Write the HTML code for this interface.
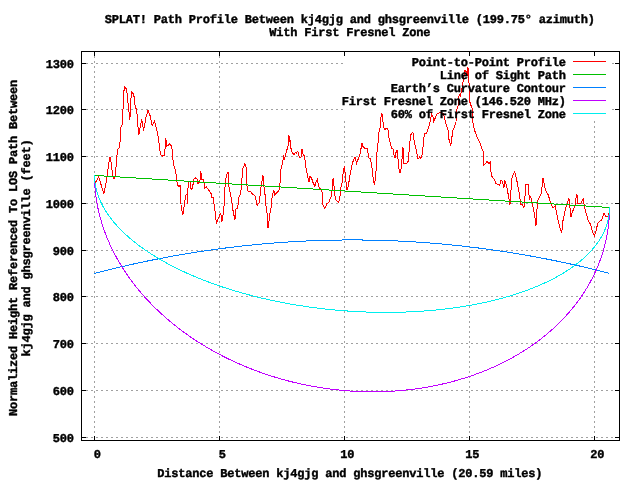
<!DOCTYPE html>
<html><head><meta charset="utf-8"><title>SPLAT! Path Profile</title>
<style>html,body{margin:0;padding:0;background:#fff;overflow:hidden}svg{display:block}</style></head>
<body>
<svg width="640" height="480" viewBox="0 0 640 480" shape-rendering="crispEdges">
<rect width="640" height="480" fill="#fff"/>
<g transform="translate(0.5,0.5)" fill="none" stroke-width="1">
<g stroke="#a0a0a0" stroke-dasharray="2 3">
<line x1="81.5" y1="63" x2="343.5" y2="63" stroke-dashoffset="1"/>
<line x1="611.5" y1="63" x2="613.5" y2="63" stroke-dasharray="none"/>
<line x1="81.5" y1="109" x2="343.5" y2="109" stroke-dashoffset="1"/>
<line x1="611.5" y1="109" x2="613.5" y2="109" stroke-dasharray="none"/>
<line x1="81.5" y1="156" x2="618.5" y2="156" stroke-dashoffset="1"/>
<line x1="81.5" y1="203" x2="618.5" y2="203" stroke-dashoffset="1"/>
<line x1="81.5" y1="250" x2="618.5" y2="250" stroke-dashoffset="1"/>
<line x1="81.5" y1="296" x2="618.5" y2="296" stroke-dashoffset="1"/>
<line x1="81.5" y1="343" x2="618.5" y2="343" stroke-dashoffset="1"/>
<line x1="81.5" y1="390" x2="618.5" y2="390" stroke-dashoffset="1"/>
<line x1="81.5" y1="437" x2="618.5" y2="437" stroke-dashoffset="1"/>
<line x1="94" y1="51.5" x2="94" y2="439.5" stroke-dashoffset="1"/>
<line x1="219" y1="51.5" x2="219" y2="439.5" stroke-dashoffset="1"/>
<line x1="344" y1="119.5" x2="344" y2="439.5" stroke-dashoffset="4"/>
<line x1="469" y1="119.5" x2="469" y2="439.5" stroke-dashoffset="4"/>
<line x1="594" y1="119.5" x2="594" y2="439.5" stroke-dashoffset="4"/>
</g>
<g stroke="#000">
<rect x="81" y="51" width="538" height="389"/>
<line x1="81.5" y1="63" x2="85.5" y2="63"/>
<line x1="614.5" y1="63" x2="618.5" y2="63"/>
<line x1="81.5" y1="109" x2="85.5" y2="109"/>
<line x1="614.5" y1="109" x2="618.5" y2="109"/>
<line x1="81.5" y1="156" x2="85.5" y2="156"/>
<line x1="614.5" y1="156" x2="618.5" y2="156"/>
<line x1="81.5" y1="203" x2="85.5" y2="203"/>
<line x1="614.5" y1="203" x2="618.5" y2="203"/>
<line x1="81.5" y1="250" x2="85.5" y2="250"/>
<line x1="614.5" y1="250" x2="618.5" y2="250"/>
<line x1="81.5" y1="296" x2="85.5" y2="296"/>
<line x1="614.5" y1="296" x2="618.5" y2="296"/>
<line x1="81.5" y1="343" x2="85.5" y2="343"/>
<line x1="614.5" y1="343" x2="618.5" y2="343"/>
<line x1="81.5" y1="390" x2="85.5" y2="390"/>
<line x1="614.5" y1="390" x2="618.5" y2="390"/>
<line x1="81.5" y1="437" x2="85.5" y2="437"/>
<line x1="614.5" y1="437" x2="618.5" y2="437"/>
<line x1="94" y1="51.5" x2="94" y2="55.5"/>
<line x1="94" y1="435.5" x2="94" y2="439.5"/>
<line x1="219" y1="51.5" x2="219" y2="55.5"/>
<line x1="219" y1="435.5" x2="219" y2="439.5"/>
<line x1="344" y1="51.5" x2="344" y2="55.5"/>
<line x1="344" y1="435.5" x2="344" y2="439.5"/>
<line x1="469" y1="51.5" x2="469" y2="55.5"/>
<line x1="469" y1="435.5" x2="469" y2="439.5"/>
<line x1="594" y1="51.5" x2="594" y2="55.5"/>
<line x1="594" y1="435.5" x2="594" y2="439.5"/>
</g>
<g stroke-linejoin="miter" stroke-linecap="square">
<polyline points="95.00,182.00 95.70,180.50 98.30,176.40 100.50,184.00 103.30,193.00 105.50,182.40 107.20,171.00 108.30,162.30 109.50,157.00 110.60,162.00 111.20,167.50 112.30,174.40 113.00,178.20 114.30,177.20 115.40,167.50 116.60,153.70 117.60,148.00 119.30,147.20 120.00,130.00 120.30,127.00 122.00,124.00 123.10,92.00 124.40,86.00 126.25,89.50 127.20,99.70 129.40,119.20 130.30,99.70 131.40,91.00 133.30,94.20 135.00,108.30 136.25,108.30 136.90,120.00 138.30,134.30 139.70,126.25 141.25,118.40 143.10,130.20 145.50,116.90 147.50,109.80 149.40,114.50 151.70,125.50 154.00,120.80 155.60,127.00 158.00,137.20 158.75,145.00 159.90,153.75 162.00,155.50 163.75,155.00 164.75,147.00 165.40,138.00 166.10,145.50 167.75,145.00 169.40,143.00 171.25,146.25 172.25,155.00 172.75,163.75 175.25,170.60 176.25,181.00 177.50,185.00 178.50,186.00 179.50,184.50 179.90,195.00 180.75,207.50 182.40,214.50 183.70,205.00 185.30,194.60 186.50,193.75 186.80,203.00 187.25,192.50 187.80,182.50 189.00,180.60 189.50,180.60 190.60,189.30 192.10,187.20 192.80,181.70 193.50,178.75 195.00,177.50 196.50,178.10 197.50,183.10 199.40,181.25 200.25,170.60 201.25,178.75 203.10,179.40 204.40,188.00 205.60,186.25 208.10,189.40 210.60,193.10 211.50,197.50 213.10,196.90 213.50,203.75 214.40,208.75 215.00,217.50 216.25,222.50 217.75,218.10 219.75,213.10 221.00,215.00 221.25,221.90 222.50,215.00 223.75,203.75 224.40,187.50 225.60,176.25 227.50,171.25 228.10,183.75 229.00,189.50 231.25,200.00 232.50,210.00 234.40,219.40 235.60,207.50 237.20,207.50 238.30,197.00 239.50,194.40 241.00,186.90 241.60,176.25 242.50,167.50 244.50,163.10 245.75,167.50 246.00,176.25 246.60,187.50 247.90,191.25 249.75,190.60 252.25,193.75 254.75,195.60 256.60,205.00 257.90,203.10 259.10,201.90 259.75,192.50 260.75,184.40 261.60,180.00 262.50,175.00 262.90,181.90 264.10,190.00 265.00,198.75 265.75,208.75 266.60,212.50 267.25,222.50 267.50,227.50 268.25,222.50 269.50,212.50 270.75,206.25 271.60,196.25 273.25,189.40 274.10,194.40 276.00,192.50 277.90,190.60 279.10,188.10 279.75,179.50 280.40,168.75 281.60,164.40 283.25,156.25 284.10,158.10 285.00,155.00 286.00,149.40 287.25,148.75 287.90,140.00 288.50,135.00 289.10,141.25 289.75,139.40 290.40,147.50 291.00,150.60 293.50,154.40 294.75,151.90 295.75,153.10 297.25,150.60 298.50,155.60 299.75,157.50 300.75,156.25 301.40,148.10 302.25,151.90 302.90,155.00 304.10,155.60 304.75,161.25 306.00,170.60 307.25,176.25 308.50,181.25 309.50,175.50 311.00,177.50 312.50,181.90 314.40,186.00 315.60,181.25 316.75,178.75 318.90,188.10 321.40,188.75 321.75,196.25 322.60,205.00 324.25,208.10 326.40,203.10 328.25,201.90 330.10,197.50 331.40,193.10 331.75,185.00 332.60,177.50 333.50,185.00 334.50,195.60 335.75,200.00 338.25,202.50 339.75,193.75 340.50,186.25 342.00,180.60 342.60,171.90 343.90,165.60 344.75,173.75 345.50,181.25 346.40,189.40 347.60,186.25 348.90,178.75 350.10,171.25 351.40,165.00 353.00,159.40 354.50,156.25 356.00,163.10 357.60,158.75 359.25,155.00 360.50,148.10 361.40,142.50 362.25,145.60 363.90,147.50 366.40,147.50 367.60,153.10 368.50,157.50 370.10,157.50 370.75,163.75 371.40,165.60 372.00,173.75 373.25,180.60 373.90,184.40 374.75,178.75 375.75,167.50 376.40,153.10 377.60,141.25 378.50,131.25 379.50,128.10 380.10,118.10 381.40,113.10 382.25,119.40 383.50,127.50 384.50,129.40 385.50,127.50 387.25,127.50 388.25,136.25 389.25,140.00 391.10,148.10 392.40,147.50 393.60,155.00 394.50,157.50 394.90,153.75 396.50,149.40 397.40,157.00 398.25,167.50 399.50,172.50 400.50,168.75 401.50,158.75 402.40,146.25 403.00,155.00 403.25,163.10 406.10,163.50 408.00,160.00 408.60,150.00 409.90,136.25 410.75,133.10 412.40,131.90 413.60,140.00 416.10,151.25 417.20,158.00 418.00,158.10 419.25,156.50 420.40,158.10 421.50,154.40 422.75,145.00 423.60,135.60 424.50,133.10 426.10,132.50 427.75,128.10 429.25,122.50 431.10,113.10 432.40,116.25 433.25,121.25 434.90,116.90 436.50,113.50 438.60,112.25 440.50,112.50 443.00,113.10 444.25,118.75 446.10,125.60 447.75,130.00 448.60,140.00 450.25,145.00 451.10,138.75 452.40,130.00 454.00,126.25 455.50,121.25 456.50,108.75 457.40,106.90 458.10,100.00 458.75,93.75 460.00,95.60 461.25,88.75 462.25,82.50 463.10,78.10 464.40,70.00 466.25,71.90 466.90,75.00 467.50,66.90 467.75,75.00 468.50,82.50 469.00,93.75 469.70,105.00 471.40,105.60 472.10,118.75 473.00,126.25 474.60,131.25 476.50,136.25 479.00,141.25 480.90,146.90 482.50,150.60 482.75,156.25 483.40,164.40 485.25,163.10 486.50,160.60 488.40,163.10 489.60,161.90 490.25,168.75 490.90,175.00 492.75,178.10 494.00,178.75 495.25,183.10 497.75,183.75 499.25,185.00 500.50,179.40 502.10,181.25 503.40,187.50 504.25,180.00 505.90,185.00 507.10,190.60 508.40,198.10 509.25,203.75 510.25,202.50 510.50,190.00 511.50,177.50 512.75,173.75 514.25,171.25 515.50,176.25 517.10,183.75 518.40,191.25 519.60,198.75 520.50,204.40 521.75,203.75 523.40,207.50 524.25,202.50 524.60,193.75 525.50,183.50 527.50,183.50 528.00,190.00 529.00,198.75 530.25,196.50 531.25,201.00 532.30,205.60 534.00,213.75 535.50,225.00 536.25,212.50 537.10,200.00 539.00,197.00 540.90,192.80 541.75,183.75 542.50,177.80 543.40,182.50 544.60,187.50 545.90,191.90 547.75,194.40 549.60,200.60 551.50,205.50 552.75,207.30 554.80,205.60 556.00,212.00 557.10,218.10 558.50,223.50 560.00,228.75 561.30,232.00 562.30,221.00 564.20,212.20 565.90,205.30 567.20,201.25 568.40,197.20 569.30,205.00 570.50,216.25 571.50,212.50 573.20,208.20 575.00,204.70 575.50,198.00 576.40,193.10 577.20,202.80 579.80,203.30 581.00,201.60 582.60,198.10 583.50,203.70 584.80,210.00 586.70,216.50 587.90,221.00 589.80,223.40 591.00,227.50 592.20,232.00 594.00,235.60 595.25,231.25 596.50,226.00 597.75,221.90 599.40,220.60 601.00,219.75 602.20,216.90 603.50,212.50 605.00,215.60 606.90,216.25 608.10,215.00 608.75,210.60 609.00,207.00" stroke="#ff0000"/>
<polyline points="94.00,174.92 609.00,206.98" stroke="#00c000"/>
<polyline points="94.00,272.85 96.00,272.33 98.00,271.82 100.00,271.31 102.00,270.81 104.00,270.31 106.00,269.81 108.00,269.32 110.00,268.83 112.00,268.34 114.00,267.86 116.00,267.39 118.00,266.91 120.00,266.45 122.00,265.98 124.00,265.52 126.00,265.06 128.00,264.61 130.00,264.16 132.00,263.72 134.00,263.28 136.00,262.84 138.00,262.41 140.00,261.98 142.00,261.56 144.00,261.14 146.00,260.72 148.00,260.31 150.00,259.90 152.00,259.50 154.00,259.10 156.00,258.70 158.00,258.31 160.00,257.92 162.00,257.54 164.00,257.16 166.00,256.78 168.00,256.41 170.00,256.04 172.00,255.68 174.00,255.32 176.00,254.96 178.00,254.61 180.00,254.27 182.00,253.92 184.00,253.58 186.00,253.25 188.00,252.92 190.00,252.59 192.00,252.26 194.00,251.95 196.00,251.63 198.00,251.32 200.00,251.01 202.00,250.71 204.00,250.41 206.00,250.11 208.00,249.82 210.00,249.54 212.00,249.25 214.00,248.97 216.00,248.70 218.00,248.43 220.00,248.16 222.00,247.90 224.00,247.64 226.00,247.38 228.00,247.13 230.00,246.89 232.00,246.64 234.00,246.40 236.00,246.17 238.00,245.94 240.00,245.71 242.00,245.49 244.00,245.27 246.00,245.06 248.00,244.85 250.00,244.64 252.00,244.44 254.00,244.24 256.00,244.04 258.00,243.85 260.00,243.67 262.00,243.48 264.00,243.31 266.00,243.13 268.00,242.96 270.00,242.80 272.00,242.63 274.00,242.48 276.00,242.32 278.00,242.17 280.00,242.03 282.00,241.88 284.00,241.75 286.00,241.61 288.00,241.48 290.00,241.36 292.00,241.23 294.00,241.12 296.00,241.00 298.00,240.89 300.00,240.79 302.00,240.68 304.00,240.59 306.00,240.49 308.00,240.40 310.00,240.32 312.00,240.24 314.00,240.16 316.00,240.08 318.00,240.02 320.00,239.95 322.00,239.89 324.00,239.83 326.00,239.78 328.00,239.73 330.00,239.68 332.00,239.64 334.00,239.60 336.00,239.57 338.00,239.54 340.00,239.52 342.00,239.50 344.00,239.48 346.00,239.47 348.00,239.46 350.00,239.45 352.00,239.45 354.00,239.45 356.00,239.46 358.00,239.47 360.00,239.49 362.00,239.51 364.00,239.53 366.00,239.56 368.00,239.59 370.00,239.62 372.00,239.66 374.00,239.71 376.00,239.75 378.00,239.80 380.00,239.86 382.00,239.92 384.00,239.98 386.00,240.05 388.00,240.12 390.00,240.20 392.00,240.28 394.00,240.36 396.00,240.45 398.00,240.54 400.00,240.63 402.00,240.73 404.00,240.84 406.00,240.95 408.00,241.06 410.00,241.17 412.00,241.29 414.00,241.42 416.00,241.55 418.00,241.68 420.00,241.81 422.00,241.95 424.00,242.10 426.00,242.25 428.00,242.40 430.00,242.55 432.00,242.71 434.00,242.88 436.00,243.05 438.00,243.22 440.00,243.40 442.00,243.58 444.00,243.76 446.00,243.95 448.00,244.14 450.00,244.34 452.00,244.54 454.00,244.74 456.00,244.95 458.00,245.16 460.00,245.38 462.00,245.60 464.00,245.83 466.00,246.05 468.00,246.29 470.00,246.52 472.00,246.76 474.00,247.01 476.00,247.26 478.00,247.51 480.00,247.77 482.00,248.03 484.00,248.29 486.00,248.56 488.00,248.84 490.00,249.11 492.00,249.39 494.00,249.68 496.00,249.97 498.00,250.26 500.00,250.56 502.00,250.86 504.00,251.16 506.00,251.47 508.00,251.79 510.00,252.10 512.00,252.43 514.00,252.75 516.00,253.08 518.00,253.41 520.00,253.75 522.00,254.09 524.00,254.44 526.00,254.79 528.00,255.14 530.00,255.50 532.00,255.86 534.00,256.23 536.00,256.60 538.00,256.97 540.00,257.35 542.00,257.73 544.00,258.12 546.00,258.51 548.00,258.90 550.00,259.30 552.00,259.70 554.00,260.11 556.00,260.52 558.00,260.93 560.00,261.35 562.00,261.77 564.00,262.20 566.00,262.63 568.00,263.06 570.00,263.50 572.00,263.94 574.00,264.39 576.00,264.84 578.00,265.29 580.00,265.75 582.00,266.21 584.00,266.68 586.00,267.15 588.00,267.62 590.00,268.10 592.00,268.59 594.00,269.07 596.00,269.56 598.00,270.06 600.00,270.56 602.00,271.06 604.00,271.57 606.00,272.08 608.00,272.59" stroke="#0080ff"/>
<polyline points="94.00,174.88 94.00,175.93 94.01,176.97 94.03,178.02 94.06,179.07 94.09,180.11 94.13,181.16 94.17,182.21 94.23,183.26 94.29,184.30 94.35,185.35 94.43,186.40 94.51,187.45 94.60,188.50 94.69,189.55 94.79,190.60 94.90,191.65 95.02,192.70 95.14,193.74 95.27,194.79 95.41,195.84 95.56,196.89 95.71,197.94 95.86,198.99 96.03,200.04 96.20,201.08 96.38,202.13 96.57,203.18 96.76,204.22 96.96,205.27 97.17,206.32 97.38,207.36 97.61,208.41 97.83,209.45 98.07,210.50 98.31,211.54 98.56,212.58 98.82,213.63 99.08,214.67 99.35,215.71 99.63,216.75 99.91,217.79 100.20,218.83 100.50,219.87 100.80,220.91 101.11,221.94 101.43,222.98 101.76,224.01 102.09,225.05 102.43,226.08 102.77,227.11 103.13,228.14 103.49,229.17 103.85,230.20 104.22,231.23 104.60,232.26 104.99,233.28 105.38,234.31 105.78,235.33 106.19,236.35 106.60,237.38 107.02,238.40 107.45,239.41 107.88,240.43 108.32,241.45 108.77,242.46 109.22,243.47 109.68,244.49 110.15,245.50 110.62,246.50 111.10,247.51 111.59,248.52 112.08,249.52 112.58,250.52 113.09,251.52 113.60,252.52 114.12,253.52 114.65,254.51 115.18,255.51 115.72,256.50 116.26,257.49 116.81,258.48 117.37,259.47 117.94,260.45 118.51,261.43 119.08,262.41 119.67,263.39 120.26,264.37 120.85,265.35 121.46,266.32 122.07,267.29 122.68,268.26 123.30,269.22 123.93,270.19 124.56,271.15 125.20,272.11 125.85,273.07 126.50,274.02 127.16,274.98 127.83,275.93 128.50,276.88 129.18,277.82 129.86,278.77 130.55,279.71 131.24,280.65 131.95,281.59 132.65,282.52 133.37,283.45 134.09,284.38 134.81,285.31 135.54,286.23 136.28,287.15 137.02,288.07 137.77,288.99 138.53,289.90 139.29,290.81 140.05,291.72 140.83,292.62 141.60,293.53 142.39,294.43 143.18,295.32 143.97,296.22 144.77,297.11 145.58,297.99 146.39,298.88 147.21,299.76 148.04,300.64 148.86,301.52 149.70,302.39 150.54,303.26 151.38,304.13 152.24,304.99 153.09,305.85 153.95,306.71 154.82,307.56 155.70,308.42 156.57,309.26 157.46,310.11 158.35,310.95 159.24,311.79 160.14,312.62 161.04,313.45 161.96,314.28 162.87,315.11 163.79,315.93 164.72,316.75 165.65,317.56 166.58,318.37 167.52,319.18 168.47,319.98 169.42,320.78 170.38,321.58 171.34,322.37 172.30,323.16 173.27,323.95 174.25,324.73 175.23,325.51 176.21,326.29 177.20,327.06 178.20,327.83 179.20,328.59 180.20,329.35 181.21,330.11 182.23,330.86 183.24,331.61 184.27,332.35 185.29,333.09 186.33,333.83 187.36,334.56 188.40,335.29 189.45,336.02 190.50,336.74 191.55,337.46 192.61,338.17 193.68,338.88 194.74,339.58 195.82,340.29 196.89,340.98 197.97,341.68 199.06,342.36 200.15,343.05 201.24,343.73 202.34,344.41 203.44,345.08 204.54,345.74 205.65,346.41 206.76,347.07 207.88,347.72 209.00,348.37 210.13,349.02 211.26,349.66 212.39,350.30 213.52,350.93 214.66,351.56 215.81,352.19 216.96,352.81 218.11,353.42 219.26,354.03 220.42,354.64 221.58,355.24 222.75,355.84 223.92,356.43 225.09,357.02 226.27,357.61 227.45,358.19 228.63,358.76 229.82,359.33 231.01,359.90 232.20,360.46 233.40,361.01 234.60,361.57 235.80,362.11 237.01,362.66 238.22,363.19 239.43,363.73 240.64,364.26 241.86,364.78 243.08,365.30 244.31,365.81 245.54,366.32 246.77,366.83 248.00,367.32 249.23,367.82 250.47,368.31 251.71,368.79 252.96,369.27 254.21,369.75 255.46,370.22 256.71,370.69 257.96,371.15 259.22,371.60 260.48,372.05 261.74,372.50 263.01,372.94 264.27,373.37 265.54,373.80 266.82,374.23 268.09,374.65 269.37,375.07 270.65,375.48 271.93,375.88 273.21,376.28 274.50,376.68 275.78,377.07 277.07,377.45 278.37,377.83 279.66,378.21 280.96,378.58 282.25,378.94 283.55,379.30 284.85,379.66 286.16,380.01 287.46,380.35 288.77,380.69 290.08,381.02 291.39,381.35 292.70,381.67 294.01,381.99 295.33,382.30 296.64,382.61 297.96,382.91 299.28,383.21 300.60,383.50 301.93,383.79 303.25,384.07 304.57,384.34 305.90,384.62 307.23,384.88 308.56,385.14 309.89,385.39 311.22,385.64 312.55,385.89 313.88,386.13 315.22,386.36 316.55,386.59 317.89,386.81 319.23,387.03 320.56,387.24 321.90,387.44 323.24,387.64 324.58,387.84 325.93,388.03 327.27,388.22 328.61,388.39 329.95,388.57 331.30,388.74 332.64,388.90 333.99,389.06 335.33,389.21 336.68,389.36 338.02,389.50 339.37,389.63 340.72,389.76 342.06,389.89 343.41,390.01 344.76,390.12 346.11,390.23 347.46,390.33 348.80,390.43 350.15,390.52 351.50,390.61 352.85,390.69 354.20,390.77 355.54,390.84 356.89,390.90 358.24,390.96 359.59,391.01 360.94,391.06 362.28,391.11 363.63,391.14 364.98,391.18 366.32,391.20 367.67,391.22 369.01,391.24 370.36,391.25 371.70,391.25 373.05,391.25 374.39,391.24 375.73,391.23 377.07,391.21 378.42,391.19 379.76,391.16 381.10,391.13 382.44,391.09 383.77,391.04 385.11,390.99 386.45,390.94 387.78,390.88 389.12,390.81 390.45,390.74 391.78,390.66 393.11,390.58 394.44,390.49 395.77,390.39 397.10,390.29 398.43,390.19 399.75,390.08 401.07,389.96 402.40,389.84 403.72,389.71 405.04,389.58 406.36,389.44 407.67,389.30 408.99,389.15 410.30,388.99 411.61,388.83 412.92,388.67 414.23,388.50 415.54,388.32 416.84,388.14 418.15,387.95 419.45,387.76 420.75,387.56 422.04,387.36 423.34,387.15 424.63,386.94 425.93,386.72 427.22,386.50 428.50,386.27 429.79,386.03 431.07,385.79 432.35,385.54 433.63,385.29 434.91,385.04 436.18,384.77 437.46,384.51 438.73,384.23 439.99,383.96 441.26,383.67 442.52,383.38 443.78,383.09 445.04,382.79 446.29,382.49 447.54,382.18 448.79,381.86 450.04,381.54 451.29,381.22 452.53,380.89 453.77,380.55 455.00,380.21 456.23,379.87 457.46,379.51 458.69,379.16 459.92,378.80 461.14,378.43 462.36,378.06 463.57,377.68 464.78,377.30 465.99,376.91 467.20,376.52 468.40,376.12 469.60,375.72 470.80,375.31 471.99,374.90 473.18,374.48 474.37,374.06 475.55,373.63 476.73,373.20 477.91,372.76 479.08,372.32 480.25,371.87 481.42,371.42 482.58,370.96 483.74,370.50 484.89,370.03 486.04,369.56 487.19,369.08 488.34,368.60 489.48,368.11 490.61,367.62 491.74,367.12 492.87,366.62 494.00,366.12 495.12,365.60 496.24,365.09 497.35,364.57 498.46,364.04 499.56,363.51 500.66,362.98 501.76,362.44 502.85,361.89 503.94,361.34 505.03,360.79 506.11,360.23 507.18,359.67 508.26,359.10 509.32,358.53 510.39,357.95 511.45,357.37 512.50,356.78 513.55,356.19 514.60,355.60 515.64,355.00 516.67,354.40 517.71,353.79 518.73,353.17 519.76,352.56 520.77,351.93 521.79,351.31 522.80,350.68 523.80,350.04 524.80,349.40 525.80,348.76 526.79,348.11 527.77,347.46 528.75,346.80 529.73,346.14 530.70,345.48 531.66,344.81 532.62,344.13 533.58,343.45 534.53,342.77 535.48,342.09 536.42,341.40 537.35,340.70 538.28,340.00 539.21,339.30 540.13,338.59 541.04,337.88 541.96,337.17 542.86,336.45 543.76,335.73 544.65,335.00 545.54,334.27 546.43,333.53 547.30,332.79 548.18,332.05 549.05,331.31 549.91,330.55 550.76,329.80 551.62,329.04 552.46,328.28 553.30,327.52 554.14,326.75 554.96,325.97 555.79,325.20 556.61,324.42 557.42,323.63 558.23,322.85 559.03,322.05 559.82,321.26 560.61,320.46 561.40,319.66 562.17,318.85 562.95,318.04 563.71,317.23 564.47,316.42 565.23,315.60 565.98,314.77 566.72,313.95 567.46,313.12 568.19,312.29 568.91,311.45 569.63,310.61 570.35,309.77 571.05,308.92 571.76,308.07 572.45,307.22 573.14,306.36 573.82,305.50 574.50,304.64 575.17,303.78 575.84,302.91 576.50,302.04 577.15,301.16 577.80,300.29 578.44,299.41 579.07,298.52 579.70,297.64 580.32,296.75 580.93,295.85 581.54,294.96 582.15,294.06 582.74,293.16 583.33,292.26 583.92,291.35 584.49,290.44 585.06,289.53 585.63,288.62 586.19,287.70 586.74,286.78 587.28,285.86 587.82,284.93 588.35,284.00 588.88,283.07 589.40,282.14 589.91,281.21 590.42,280.27 590.92,279.33 591.41,278.39 591.90,277.44 592.38,276.49 592.85,275.54 593.32,274.59 593.78,273.64 594.23,272.68 594.68,271.72 595.12,270.76 595.55,269.80 595.98,268.83 596.40,267.87 596.81,266.90 597.22,265.92 597.62,264.95 598.01,263.98 598.40,263.00 598.78,262.02 599.15,261.04 599.51,260.05 599.87,259.07 600.23,258.08 600.57,257.09 600.91,256.10 601.24,255.11 601.57,254.11 601.89,253.12 602.20,252.12 602.50,251.12 602.80,250.12 603.09,249.11 603.37,248.11 603.65,247.10 603.92,246.10 604.18,245.09 604.44,244.08 604.69,243.06 604.93,242.05 605.17,241.04 605.39,240.02 605.62,239.00 605.83,237.98 606.04,236.96 606.24,235.94 606.43,234.92 606.62,233.89 606.80,232.87 606.97,231.84 607.14,230.82 607.29,229.79 607.44,228.76 607.59,227.73 607.73,226.69 607.86,225.66 607.98,224.63 608.10,223.59 608.21,222.56 608.31,221.52 608.40,220.49 608.49,219.45 608.57,218.41 608.65,217.37 608.71,216.33 608.77,215.29 608.83,214.25 608.87,213.20 608.91,212.16 608.94,211.12 608.97,210.07 608.99,209.03 609.00,207.99 609.00,206.94" stroke="#c000ff"/>
<polyline points="94.00,174.88 94.00,175.51 94.01,176.14 94.03,176.77 94.06,177.39 94.09,178.02 94.13,178.65 94.17,179.28 94.23,179.91 94.29,180.55 94.35,181.18 94.43,181.81 94.51,182.44 94.60,183.07 94.69,183.70 94.79,184.34 94.90,184.97 95.02,185.60 95.14,186.23 95.27,186.87 95.41,187.50 95.56,188.13 95.71,188.77 95.86,189.40 96.03,190.03 96.20,190.67 96.38,191.30 96.57,191.93 96.76,192.57 96.96,193.20 97.17,193.83 97.38,194.47 97.61,195.10 97.83,195.73 98.07,196.37 98.31,197.00 98.56,197.63 98.82,198.26 99.08,198.90 99.35,199.53 99.63,200.16 99.91,200.79 100.20,201.42 100.50,202.05 100.80,202.68 101.11,203.31 101.43,203.94 101.76,204.57 102.09,205.20 102.43,205.83 102.77,206.46 103.13,207.09 103.49,207.71 103.85,208.34 104.22,208.97 104.60,209.59 104.99,210.22 105.38,210.84 105.78,211.47 106.19,212.09 106.60,212.72 107.02,213.34 107.45,213.96 107.88,214.58 108.32,215.20 108.77,215.82 109.22,216.44 109.68,217.06 110.15,217.68 110.62,218.30 111.10,218.91 111.59,219.53 112.08,220.14 112.58,220.76 113.09,221.37 113.60,221.98 114.12,222.60 114.65,223.21 115.18,223.82 115.72,224.43 116.26,225.03 116.81,225.64 117.37,226.25 117.94,226.85 118.51,227.46 119.08,228.06 119.67,228.66 120.26,229.26 120.85,229.86 121.46,230.46 122.07,231.06 122.68,231.66 123.30,232.25 123.93,232.85 124.56,233.44 125.20,234.03 125.85,234.63 126.50,235.22 127.16,235.80 127.83,236.39 128.50,236.98 129.18,237.56 129.86,238.15 130.55,238.73 131.24,239.31 131.95,239.89 132.65,240.47 133.37,241.05 134.09,241.62 134.81,242.20 135.54,242.77 136.28,243.34 137.02,243.91 137.77,244.48 138.53,245.05 139.29,245.61 140.05,246.18 140.83,246.74 141.60,247.30 142.39,247.86 143.18,248.42 143.97,248.97 144.77,249.53 145.58,250.08 146.39,250.63 147.21,251.18 148.04,251.73 148.86,252.28 149.70,252.82 150.54,253.37 151.38,253.91 152.24,254.45 153.09,254.99 153.95,255.52 154.82,256.06 155.70,256.59 156.57,257.12 157.46,257.65 158.35,258.18 159.24,258.70 160.14,259.23 161.04,259.75 161.96,260.27 162.87,260.79 163.79,261.30 164.72,261.82 165.65,262.33 166.58,262.84 167.52,263.35 168.47,263.85 169.42,264.36 170.38,264.86 171.34,265.36 172.30,265.86 173.27,266.35 174.25,266.85 175.23,267.34 176.21,267.83 177.20,268.32 178.20,268.80 179.20,269.29 180.20,269.77 181.21,270.25 182.23,270.72 183.24,271.20 184.27,271.67 185.29,272.14 186.33,272.61 187.36,273.08 188.40,273.54 189.45,274.00 190.50,274.46 191.55,274.92 192.61,275.37 193.68,275.82 194.74,276.27 195.82,276.72 196.89,277.17 197.97,277.61 199.06,278.05 200.15,278.49 201.24,278.92 202.34,279.36 203.44,279.79 204.54,280.22 205.65,280.64 206.76,281.07 207.88,281.49 209.00,281.91 210.13,282.32 211.26,282.74 212.39,283.15 213.52,283.56 214.66,283.96 215.81,284.37 216.96,284.77 218.11,285.16 219.26,285.56 220.42,285.95 221.58,286.34 222.75,286.73 223.92,287.12 225.09,287.50 226.27,287.88 227.45,288.26 228.63,288.63 229.82,289.00 231.01,289.37 232.20,289.74 233.40,290.10 234.60,290.46 235.80,290.82 237.01,291.18 238.22,291.53 239.43,291.88 240.64,292.23 241.86,292.57 243.08,292.92 244.31,293.25 245.54,293.59 246.77,293.92 248.00,294.25 249.23,294.58 250.47,294.91 251.71,295.23 252.96,295.55 254.21,295.87 255.46,296.18 256.71,296.49 257.96,296.80 259.22,297.10 260.48,297.40 261.74,297.70 263.01,298.00 264.27,298.29 265.54,298.58 266.82,298.87 268.09,299.15 269.37,299.43 270.65,299.71 271.93,299.99 273.21,300.26 274.50,300.53 275.78,300.80 277.07,301.06 278.37,301.32 279.66,301.58 280.96,301.83 282.25,302.08 283.55,302.33 284.85,302.58 286.16,302.82 287.46,303.06 288.77,303.29 290.08,303.53 291.39,303.76 292.70,303.98 294.01,304.21 295.33,304.43 296.64,304.64 297.96,304.86 299.28,305.07 300.60,305.28 301.93,305.48 303.25,305.68 304.57,305.88 305.90,306.08 307.23,306.27 308.56,306.46 309.89,306.64 311.22,306.83 312.55,307.01 313.88,307.18 315.22,307.36 316.55,307.53 317.89,307.69 319.23,307.86 320.56,308.02 321.90,308.17 323.24,308.33 324.58,308.48 325.93,308.63 327.27,308.77 328.61,308.91 329.95,309.05 331.30,309.18 332.64,309.31 333.99,309.44 335.33,309.57 336.68,309.69 338.02,309.81 339.37,309.92 340.72,310.03 342.06,310.14 343.41,310.25 344.76,310.35 346.11,310.45 347.46,310.54 348.80,310.64 350.15,310.72 351.50,310.81 352.85,310.89 354.20,310.97 355.54,311.05 356.89,311.12 358.24,311.19 359.59,311.25 360.94,311.32 362.28,311.38 363.63,311.43 364.98,311.48 366.32,311.53 367.67,311.58 369.01,311.62 370.36,311.66 371.70,311.70 373.05,311.73 374.39,311.76 375.73,311.79 377.07,311.81 378.42,311.83 379.76,311.84 381.10,311.86 382.44,311.87 383.77,311.87 385.11,311.88 386.45,311.88 387.78,311.87 389.12,311.87 390.45,311.86 391.78,311.84 393.11,311.82 394.44,311.80 395.77,311.78 397.10,311.75 398.43,311.72 399.75,311.69 401.07,311.65 402.40,311.61 403.72,311.57 405.04,311.52 406.36,311.47 407.67,311.42 408.99,311.36 410.30,311.30 411.61,311.24 412.92,311.17 414.23,311.10 415.54,311.03 416.84,310.95 418.15,310.87 419.45,310.79 420.75,310.70 422.04,310.61 423.34,310.52 424.63,310.43 425.93,310.33 427.22,310.22 428.50,310.12 429.79,310.01 431.07,309.90 432.35,309.78 433.63,309.66 434.91,309.54 436.18,309.41 437.46,309.28 438.73,309.15 439.99,309.02 441.26,308.88 442.52,308.74 443.78,308.59 445.04,308.44 446.29,308.29 447.54,308.14 448.79,307.98 450.04,307.82 451.29,307.65 452.53,307.49 453.77,307.32 455.00,307.14 456.23,306.96 457.46,306.78 458.69,306.60 459.92,306.41 461.14,306.22 462.36,306.03 463.57,305.83 464.78,305.64 465.99,305.43 467.20,305.23 468.40,305.02 469.60,304.81 470.80,304.59 471.99,304.37 473.18,304.15 474.37,303.93 475.55,303.70 476.73,303.47 477.91,303.24 479.08,303.00 480.25,302.76 481.42,302.52 482.58,302.27 483.74,302.02 484.89,301.77 486.04,301.52 487.19,301.26 488.34,301.00 489.48,300.73 490.61,300.47 491.74,300.20 492.87,299.92 494.00,299.65 495.12,299.37 496.24,299.09 497.35,298.80 498.46,298.51 499.56,298.22 500.66,297.93 501.76,297.63 502.85,297.33 503.94,297.03 505.03,296.73 506.11,296.42 507.18,296.11 508.26,295.79 509.32,295.47 510.39,295.15 511.45,294.83 512.50,294.51 513.55,294.18 514.60,293.85 515.64,293.51 516.67,293.18 517.71,292.84 518.73,292.49 519.76,292.15 520.77,291.80 521.79,291.45 522.80,291.10 523.80,290.74 524.80,290.38 525.80,290.02 526.79,289.65 527.77,289.29 528.75,288.92 529.73,288.54 530.70,288.17 531.66,287.79 532.62,287.41 533.58,287.03 534.53,286.64 535.48,286.25 536.42,285.86 537.35,285.47 538.28,285.07 539.21,284.67 540.13,284.27 541.04,283.87 541.96,283.46 542.86,283.05 543.76,282.64 544.65,282.23 545.54,281.81 546.43,281.39 547.30,280.97 548.18,280.54 549.05,280.12 549.91,279.69 550.76,279.26 551.62,278.82 552.46,278.39 553.30,277.95 554.14,277.51 554.96,277.06 555.79,276.62 556.61,276.17 557.42,275.72 558.23,275.27 559.03,274.81 559.82,274.35 560.61,273.89 561.40,273.43 562.17,272.97 562.95,272.50 563.71,272.03 564.47,271.56 565.23,271.09 565.98,270.61 566.72,270.14 567.46,269.66 568.19,269.17 568.91,268.69 569.63,268.20 570.35,267.72 571.05,267.23 571.76,266.73 572.45,266.24 573.14,265.74 573.82,265.24 574.50,264.74 575.17,264.24 575.84,263.73 576.50,263.23 577.15,262.72 577.80,262.21 578.44,261.70 579.07,261.18 579.70,260.67 580.32,260.15 580.93,259.63 581.54,259.10 582.15,258.58 582.74,258.05 583.33,257.53 583.92,257.00 584.49,256.47 585.06,255.93 585.63,255.40 586.19,254.86 586.74,254.32 587.28,253.78 587.82,253.24 588.35,252.70 588.88,252.15 589.40,251.60 589.91,251.05 590.42,250.50 590.92,249.95 591.41,249.40 591.90,248.84 592.38,248.29 592.85,247.73 593.32,247.17 593.78,246.61 594.23,246.04 594.68,245.48 595.12,244.91 595.55,244.35 595.98,243.78 596.40,243.21 596.81,242.63 597.22,242.06 597.62,241.49 598.01,240.91 598.40,240.33 598.78,239.75 599.15,239.17 599.51,238.59 599.87,238.01 600.23,237.43 600.57,236.84 600.91,236.25 601.24,235.67 601.57,235.08 601.89,234.49 602.20,233.90 602.50,233.30 602.80,232.71 603.09,232.11 603.37,231.52 603.65,230.92 603.92,230.32 604.18,229.72 604.44,229.12 604.69,228.52 604.93,227.92 605.17,227.32 605.39,226.71 605.62,226.11 605.83,225.50 606.04,224.89 606.24,224.28 606.43,223.67 606.62,223.06 606.80,222.45 606.97,221.84 607.14,221.23 607.29,220.61 607.44,220.00 607.59,219.39 607.73,218.77 607.86,218.15 607.98,217.53 608.10,216.92 608.21,216.30 608.31,215.68 608.40,215.06 608.49,214.44 608.57,213.82 608.65,213.19 608.71,212.57 608.77,211.95 608.83,211.32 608.87,210.70 608.91,210.07 608.94,209.45 608.97,208.82 608.99,208.19 609.00,207.57 609.00,206.94" stroke="#00eeee"/>
<line x1="573" y1="61" x2="605" y2="61" stroke="#ff0000"/>
<line x1="573" y1="74" x2="605" y2="74" stroke="#00c000"/>
<line x1="573" y1="87" x2="605" y2="87" stroke="#0080ff"/>
<line x1="573" y1="100" x2="605" y2="100" stroke="#c000ff"/>
<line x1="573" y1="113" x2="605" y2="113" stroke="#00eeee"/>
</g>
</g>
<g font-family="'Liberation Mono', monospace" font-weight="bold" font-size="12px" letter-spacing="-0.201px" fill="#000" stroke="#000" stroke-width="0.4" text-rendering="geometricPrecision" style="white-space:pre">
<text x="104.7" y="23" text-anchor="start">SPLAT! Path Profile Between kj4gjg and ghsgreenville (199.75° azimuth)</text>
<text x="269.2" y="36" text-anchor="start">With First Fresnel Zone</text>
<text x="45.7" y="68" text-anchor="start">1300</text>
<text x="45.7" y="114" text-anchor="start">1200</text>
<text x="45.7" y="161" text-anchor="start">1100</text>
<text x="45.7" y="208" text-anchor="start">1000</text>
<text x="52.7" y="255" text-anchor="start">900</text>
<text x="52.7" y="301" text-anchor="start">800</text>
<text x="52.7" y="348" text-anchor="start">700</text>
<text x="52.7" y="395" text-anchor="start">600</text>
<text x="52.7" y="442" text-anchor="start">500</text>
<text x="93.7" y="458" text-anchor="start">0</text>
<text x="218.7" y="458" text-anchor="start">5</text>
<text x="340.2" y="458" text-anchor="start">10</text>
<text x="465.2" y="458" text-anchor="start">15</text>
<text x="590.2" y="458" text-anchor="start">20</text>
<text x="157.2" y="477" text-anchor="start">Distance Between kj4gjg and ghsgreenville (20.59 miles)</text>
<text x="411.7" y="66" text-anchor="start">Point-to-Point Profile</text>
<text x="439.7" y="79" text-anchor="start">Line of Sight Path</text>
<text x="390.7" y="92" text-anchor="start">Earth’s Curvature Contour</text>
<text x="341.7" y="105" text-anchor="start">First Fresnel Zone (146.520 MHz)</text>
<text x="390.7" y="118" text-anchor="start">60% of First Fresnel Zone</text>
<text transform="translate(17,416) rotate(-90)">Normalized Height Referenced To LOS Path Between</text>
<text transform="translate(30,356.5) rotate(-90)">kj4gjg and ghsgreenville (feet)</text>
</g>
</svg>
</body></html>
